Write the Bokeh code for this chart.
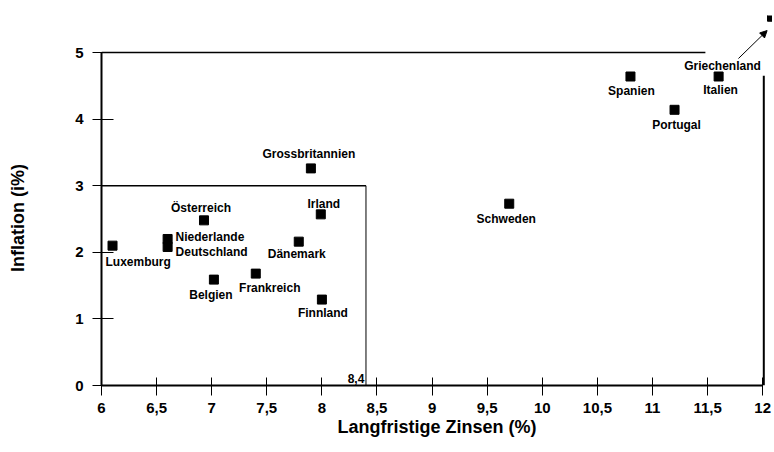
from bokeh.plotting import figure
from bokeh.models import ColumnDataSource, Arrow, NormalHead, FixedTicker
from bokeh.core.properties import value
from bokeh.embed import file_html
from bokeh.resources import INLINE

# ---- data ----
countries = ["Luxemburg", "Niederlande", "Deutschland", "Österreich", "Belgien",
             "Frankreich", "Dänemark", "Irland", "Finnland", "Grossbritannien",
             "Schweden", "Spanien", "Italien", "Portugal"]
zinsen = [6.1, 6.6, 6.6, 6.93, 7.02, 7.4, 7.79, 7.99, 8.0, 7.9, 9.7, 10.8, 11.6, 11.2]
inflation = [2.1, 2.2, 2.08, 2.48, 1.59, 1.68, 2.16, 2.57, 1.29, 3.26, 2.73, 4.64, 4.64, 4.14]

x_ticks = [6, 6.5, 7, 7.5, 8, 8.5, 9, 9.5, 10, 10.5, 11, 11.5, 12]
x_tick_labels = ["6", "6,5", "7", "7,5", "8", "8,5", "9", "9,5", "10", "10,5", "11", "11,5", "12"]
y_ticks = [0, 1, 2, 3, 4, 5]
y_tick_labels = ["0", "1", "2", "3", "4", "5"]

box_x = 8.4
box_y = 3
box_label = "8,4"
outlier_label = "Griechenland"
x_title = "Langfristige Zinsen (%)"
y_title = "Inflation (i%)"

# ---- label layout (screen offsets) ----
label_dx = [-7, 8, 8, -3, -3, 14, -2, 3, 1, -2, -3, 1, 2, 2]
label_dy = [16, -2, 5, -12, 15, 14, 12, -10, 13, -14, 15, 14, 13, 15]
label_align = ["left", "left", "left", "center", "center", "center", "center",
               "center", "center", "center", "center", "center", "center", "center"]

FONT = "Liberation Sans"

p = figure(width=772, height=450, output_backend="svg", toolbar_location=None,
           x_range=(6, 12.089), y_range=(0, 5.556),
           min_border_left=101, min_border_right=0, min_border_top=15, min_border_bottom=65)
p.outline_line_color = None
p.xgrid.visible = False
p.ygrid.visible = False
p.background_fill_color = "white"

src = ColumnDataSource(dict(x=zinsen, y=inflation, name=countries,
                            dx=label_dx, dy=label_dy, align=label_align))

# frame lines
p.line([6, box_x], [box_y, box_y], line_color="black", line_width=1.5)
p.line([box_x, box_x], [0, box_y], line_color="black", line_width=1)
p.line([6, 11.48], [5, 5], line_color="black", line_width=1.5)
p.line([12.01, 12.01], [0, 4.65], line_color="black", line_width=2)

p.scatter("x", "y", source=src, marker="square", size=9, color="black")
p.text("x", "y", text="name", source=src, x_offset="dx", y_offset="dy",
       text_align="align", text_baseline="middle", text_font=value(FONT),
       text_font_style="bold", text_font_size="12px", text_color="black")

p.text([box_x], [0], text=[box_label], x_offset=-10, y_offset=-7,
       text_align="center", text_baseline="middle", text_font=value(FONT),
       text_font_style="bold", text_font_size="12px")
p.text([11.635], [4.80], text=[outlier_label], text_align="center",
       text_baseline="middle", text_font=value(FONT), text_font_style="bold",
       text_font_size="12px")

p.add_layout(Arrow(end=NormalHead(size=7, fill_color="black", line_color="black"),
                   x_start=11.78, y_start=4.91, x_end=12.04, y_end=5.33,
                   line_color="black", line_width=1))
p.scatter([12.08], [5.53], marker="square", size=8, color="black")

for ax in (p.xaxis[0], p.yaxis[0]):
    ax.axis_line_width = 2
    ax.axis_line_color = "black"
    ax.major_tick_line_color = "black"
    ax.minor_tick_line_color = None
    ax.major_label_text_font = FONT
    ax.major_label_text_font_style = "bold"
    ax.major_label_text_color = "black"
    ax.axis_label_text_font = FONT
    ax.axis_label_text_font_style = "bold"
    ax.axis_label_text_font_size = "18px"
    ax.axis_label_text_color = "black"

p.xaxis.ticker = FixedTicker(ticks=x_ticks)
p.xaxis.major_label_overrides = {t: l for t, l in zip(x_ticks, x_tick_labels)}
p.xaxis.bounds = (6, 12)
p.xaxis.major_tick_in = 8
p.xaxis.major_tick_out = 10
p.xaxis.major_label_text_font_size = "15px"
p.xaxis.major_label_standoff = 7
p.xaxis.axis_label = x_title
p.xaxis.axis_label_standoff = 1

p.yaxis.ticker = FixedTicker(ticks=y_ticks)
p.yaxis.major_label_overrides = {t: l for t, l in zip(y_ticks, y_tick_labels)}
p.yaxis.bounds = (0, 5)
p.yaxis.major_tick_in = 12
p.yaxis.major_tick_out = 9
p.yaxis.major_label_text_font_size = "15px"
p.yaxis.major_label_standoff = 9
# trailing no-break spaces shift the centred title down onto the 0..5 span
p.yaxis.axis_label = y_title + "\u00a0" * 7
p.yaxis.axis_label_standoff = 44

open("out.html", "w").write(file_html(p, INLINE))
